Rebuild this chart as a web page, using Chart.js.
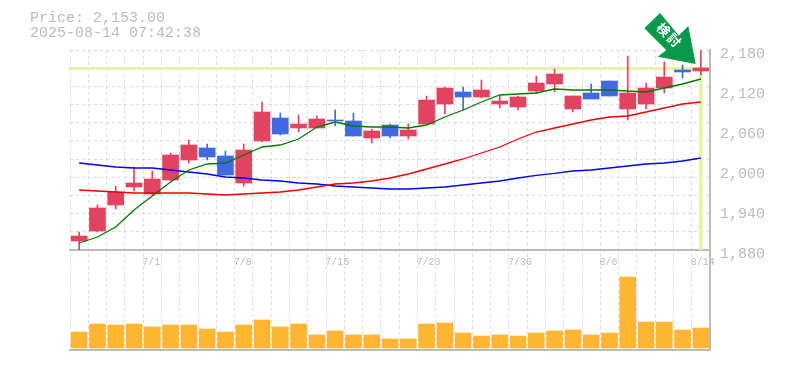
<!DOCTYPE html>
<html>
<head>
<meta charset="utf-8">
<script src="https://cdn.jsdelivr.net/npm/chart.js@4"></script>
<style>
    html, body { margin: 0; padding: 0; background: #fff; overflow: hidden; }
    #wrap { position: relative; width: 785px; height: 370px; }
    #info { position: absolute; left: 30px; top: 11px; font: 15px/15px "Liberation Mono", monospace; color: #bbb; white-space: pre; }
    #tag { position: absolute; left: 640px; top: 8px; width: 65px; height: 58px; }
</style>
</head>
<body>
<div id="wrap">
    <canvas id="stockChart" width="785" height="370"></canvas>
    <div id="info">Price: 2,153.00
2025-08-14 07:42:38</div>
    <svg id="tag" viewBox="0 0 65 58">
        <polygon points="20,5 4.3,20.3 26.3,42.3 17.7,48.7 55.7,56 48.3,18 38.8,27.5" fill="#069a4a"/>
        <text x="0" y="0" transform="translate(26,31) rotate(45)" text-anchor="middle" font-family="Noto Sans CJK JP" font-weight="bold" font-size="13" letter-spacing="2" fill="#fff">検討</text>
    </svg>
</div>
<script>
const labels = ["6/25","6/26","6/27","6/30","7/1","7/2","7/3","7/4","7/7","7/8","7/9","7/10","7/11","7/14","7/15","7/16","7/17","7/18","7/22","7/23","7/24","7/25","7/28","7/29","7/30","7/31","8/1","8/4","8/5","8/6","8/7","8/8","8/12","8/13","8/14"];
const opens = [1893.5,1908.5,1947.5,1974.5,1964,1985,2015,2033,2021,1980.5,2043.5,2078,2063,2063,2075,2073.5,2048,2067.5,2051,2069,2099,2117,2109.5,2099,2094.5,2118.5,2129,2091.5,2115.5,2133.5,2091.5,2099,2123,2150,2148.5];
const closes = [1901,1943,1967,1980.5,1986.5,2022.5,2037.5,2019.5,1992.5,2030,2087,2054,2069,2076.5,2073.5,2051,2058.5,2051,2060,2105,2123,2109.5,2120,2103.5,2109.5,2130.5,2144,2111,2106.5,2111,2115.5,2123,2139.5,2147,2153];
const highs = [1907,1947.5,1976,2004.5,1998.5,2025.5,2045,2039,2028.5,2039,2102,2085.5,2082.5,2081,2090,2085.5,2061.5,2069,2069,2111,2124.5,2124.5,2135,2111,2111,2141,2151.5,2111,2129,2133.5,2171,2130.5,2162,2157.5,2180];
const lows = [1880,1907,1941.5,1968.5,1962.5,1983.5,2010.5,2015,1992.5,1976,2042,2052.5,2057,2063,2066,2051,2040.5,2048,2046.5,2069,2084,2090,2108,2093,2090,2115.5,2117,2087,2106.5,2111,2075,2091.5,2115.5,2138,2142.5];
const shortAvg = [1890.5,1899.5,1914.5,1940,1961,1982,2000,2009,2010.5,2022.5,2034.5,2037.5,2046.5,2064.5,2072,2066,2064.5,2064.5,2063,2067.5,2079.5,2090,2102,2112.5,2114,2115.5,2121.5,2120,2120,2120,2118.5,2117,2123,2129,2136.5];
const midAvg = [1970,1968.5,1967,1965.5,1965.5,1965.5,1965.5,1964,1962.5,1964,1965.5,1967,1970,1974.5,1979,1980.5,1983.5,1988,1994,2001.5,2009,2016.5,2025.5,2034.5,2046.5,2057,2063,2069,2075,2079.5,2081,2087,2093,2099,2102];
const longAvg = [2010.5,2007.5,2004.5,2003,2003,2000,1997,1994,1989.5,1988,1985,1983.5,1980.5,1979,1976,1974.5,1973,1971.5,1971.5,1973,1974.5,1977.5,1980.5,1983.5,1988,1992,1995,1998.5,2000,2003,2006,2009,2010.5,2013.5,2018];
const volumes = [160,240,230,240,210,230,230,190,160,230,280,210,240,130,170,130,130,90,90,240,250,150,120,130,120,150,170,180,130,150,710,260,260,180,200];
const priceTicks = [2180,2120,2060,2000,1940,1880];
const lastPrice = 2153;

const upColor = "#e24360";
const downColor = "#4169e1";
const priceLineColor = "#e4f3a8";
const gridDash = [3, 3];
const gridStyle = { color: "#dcdcdc", lineWidth: 1, tickLength: 0 };
const candleColors = opens.map((o, i) => closes[i] >= o ? upColor : downColor);
const bodies = opens.map((o, i) => [o, closes[i]]);
const wicks = lows.map((l, i) => [l, highs[i]]);
// vertical marker under the latest candle
const marker = labels.map((l, i) => i === labels.length - 1 ? [1880, lastPrice] : null);

function lineSet(data, color) {
    return { type: "line", data: data, yAxisID: "y", xAxisID: "x", borderColor: color, borderWidth: 1.3, pointRadius: 0, tension: 0, order: 1 };
}

new Chart(document.getElementById("stockChart"), {
    data: {
        labels: labels,
        datasets: [
            lineSet(shortAvg, "#007a00"),
            lineSet(midAvg, "#f00000"),
            lineSet(longAvg, "#0000f0"),
            { type: "bar", data: bodies, yAxisID: "y", xAxisID: "x", backgroundColor: candleColors, barThickness: 16, grouped: false, order: 2 },
            { type: "bar", data: wicks, yAxisID: "y", xAxisID: "x", backgroundColor: candleColors, barThickness: 1, grouped: false, order: 3 },
            { type: "bar", data: volumes, yAxisID: "vol", xAxisID: "x", backgroundColor: "#ffb733", barThickness: 16, grouped: false, order: 4 },
            { type: "bar", data: marker, yAxisID: "y", xAxisID: "x", backgroundColor: priceLineColor, barThickness: 3, grouped: false, order: 5 }
        ]
    },
    options: {
        responsive: false,
        animation: false,
        layout: { padding: { left: 70, right: 0, top: 50, bottom: 20 } },
        plugins: { legend: { display: false }, tooltip: { enabled: false } },
        scales: {
            x: {
                offset: true,
                grid: { ...gridStyle, offset: true },
                border: { color: "#bbb", dash: gridDash, width: 2 },
                ticks: { display: false },
                afterFit: scale => { scale.height = 0; }
            },
            dates: {
                axis: "x",
                type: "category",
                labels: labels,
                offset: true,
                position: { y: 1880 },
                grid: { display: false },
                border: { color: "#bbb", width: 2 },
                ticks: {
                    autoSkip: false,
                    maxRotation: 0,
                    align: "start",
                    labelOffset: -10,
                    padding: -2,
                    color: "#bbb",
                    font: { family: "Liberation Mono", size: 10 },
                    callback: (v, i) => (i + 1) % 5 === 0 ? labels[i] : ""
                }
            },
            // axis line only, this is the horizontal current price line
            priceLine: {
                axis: "x",
                type: "category",
                labels: labels,
                position: { y: lastPrice },
                grid: { display: false },
                border: { color: priceLineColor, width: 3 },
                ticks: { display: false }
            },
            y: {
                position: "right",
                stack: "right",
                stackWeight: 2,
                min: 1880,
                max: 2180,
                afterFit: scale => { scale.width = 75; },
                afterBuildTicks: scale => { scale.ticks = priceTicks.map(v => ({ value: v })); },
                grid: { display: false },
                border: { color: "#bbb", width: 2 },
                ticks: {
                    autoSkip: false,
                    padding: 2,
                    labelOffset: 4,
                    color: "#bbb",
                    font: { family: "Liberation Mono", size: 15 },
                    callback: v => v.toLocaleString("en-US")
                }
            },
            vol: {
                position: "right",
                stack: "right",
                stackWeight: 1,
                min: -20,
                max: 980,
                afterFit: scale => { scale.width = 75; },
                grid: { display: false },
                border: { color: "#bbb", width: 2 },
                ticks: { display: false }
            },
            // left side stacks run in reverse order, so the gap comes first
            volGap: {
                position: "left",
                stack: "left",
                stackWeight: 1,
                min: 0,
                max: 1,
                afterFit: scale => { scale.width = 0; },
                grid: { display: false },
                border: { display: false },
                ticks: { display: false }
            },
            priceGrid: {
                position: "left",
                stack: "left",
                stackWeight: 2,
                min: 0,
                max: 11,
                afterFit: scale => { scale.width = 0; },
                grid: gridStyle,
                border: { display: false, dash: gridDash },
                ticks: { display: false, stepSize: 1 }
            }
        }
    }
});
</script>
</body>
</html>
